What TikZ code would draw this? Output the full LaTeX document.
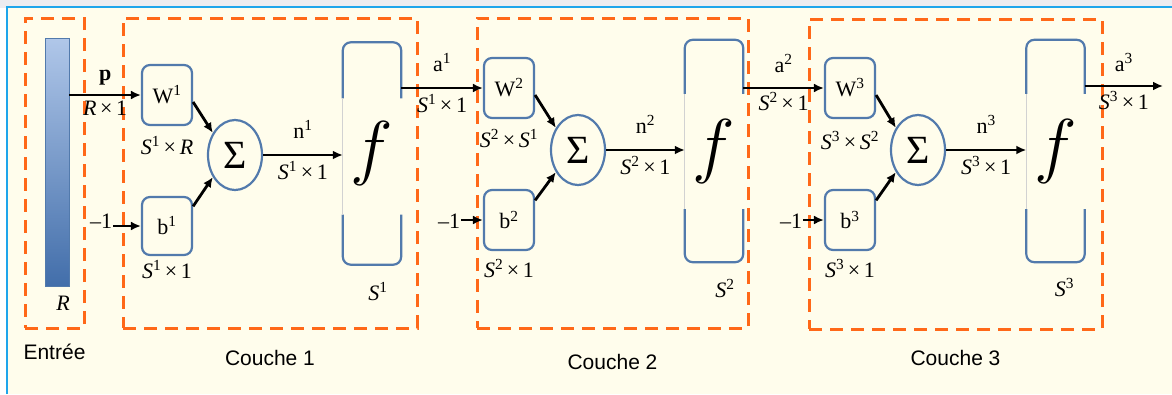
\RequirePackage{fix-cm}
\documentclass[tikz,border=0pt]{standalone}
\usepackage{fontspec}
\setmainfont{Liberation Serif}
\setsansfont{Liberation Sans}
\usetikzlibrary{positioning,arrows.meta,shapes.geometric}

\definecolor{dashorange}{RGB}{255,104,24}
\definecolor{boxblue}{RGB}{82,122,172}
\definecolor{barlight}{RGB}{176,199,233}
\definecolor{bardark}{RGB}{66,110,170}
\definecolor{paper}{RGB}{255,253,236}
\definecolor{framebl}{RGB}{30,165,235}
\definecolor{topgray}{RGB}{236,236,240}

\tikzset{
  layerbox/.style={draw=dashorange, line width=3pt, dash pattern=on 13pt off 8pt,
                   minimum height=310pt, inner sep=0pt},
  wbox/.style={draw=boxblue, line width=2.2pt, rounded corners=8pt,
               minimum width=50pt, minimum height=60pt, inner sep=0pt,
               font=\fontsize{22}{26}\selectfont},
  sumnode/.style={ellipse, draw=boxblue, line width=2.2pt, minimum width=54pt,
                  minimum height=70pt, inner sep=0pt, font=\fontsize{40}{42}\selectfont},
  fnode/.style={minimum width=58pt, minimum height=222pt, inner sep=0pt,
                font=\fontsize{72}{72}\selectfont},
  fline/.style={draw=boxblue, line width=2.2pt, rounded corners=8pt},
  gapline/.style={draw=gray!35, line width=0.8pt},
  inbar/.style={top color=barlight, bottom color=bardark, draw=boxblue, line width=0.8pt,
                minimum width=24pt, minimum height=248pt, inner sep=0pt},
  lbl/.style={font=\fontsize{22}{26}\selectfont, inner sep=1pt},
  laytitle/.style={font=\sffamily\fontsize{21}{25}\selectfont, inner sep=0pt},
  arr/.style={->, line width=2.8pt}
}

\begin{document}
\begin{tikzpicture}[x=1pt, y=-1pt, >={Latex[length=10pt,width=9pt]}]
  \useasboundingbox (0,0) rectangle (1172,394);
  % page frame
  \fill[topgray] (0,0) rectangle (1172,8);
  \fill[white] (0,8) rectangle (8,394);
  \fill[paper] (8,8) rectangle (1172,394);
  \draw[framebl, line width=2pt] (7,394) -- (7,7) -- (1172,7);

  % dashed frames
  \node[layerbox, minimum width=59pt] (ent) at (54.5,173) {};
  \node[layerbox, minimum width=294pt] (c1) at (270,173) {};
  \node[layerbox, minimum width=271pt] (c2) at (612.5,173) {};
  \node[layerbox, minimum width=293pt] (c3) at (955.5,174) {};
  \node[laytitle, below=14pt of ent] (entlab) {Entrée};
  \node[laytitle, below=21pt of c1] (c1lab) {Couche 1};
  \node[laytitle, below=25pt of c2] (c2lab) {Couche 2};
  \node[laytitle, below=20pt of c3] (c3lab) {Couche 3};

  % input
  \node[inbar] (bar) at (57,162) {};
  \node[lbl] (barR) at (63,303) {\textit{R}};

  % layer 1
  \node[wbox] (w1) at (167,95) {W\textsuperscript{1}};
  \node[wbox, minimum height=58pt] (b1) at (167,226) {b\textsuperscript{1}};
  \node[sumnode] (s1) at (235,155) {Σ};
  \node[fnode] (f1) at (372,153.5) {$f$};
  \node[lbl, below=9pt of w1] (w1dim) {\textit{S}\textsuperscript{1}\,×\,\textit{R}};
  \node[lbl, below=3pt of b1] (b1dim) {\textit{S}\textsuperscript{1}\,×\,1};
  \node[lbl, below=16pt of f1, xshift=6pt] (f1dim) {\textit{S}\textsuperscript{1}};
  \node[lbl] (m1) at (101,221) {--1};
  \draw[fline] ([yshift=-56pt]f1.north west) |- (f1.north east) -- ++(0,56);
  \draw[fline] ([yshift=50pt]f1.south west) |- (f1.south east) -- ++(0,-50);
  \draw[gapline] ([yshift=-56pt]f1.north west) -- ([yshift=50pt]f1.south west);

  \draw[arr] (bar.east |- w1) -- node[lbl, above=7pt] (plab) {\textbf{p}}
    node[lbl, below=4pt] (pdim) {\textit{R}\,×\,1} (w1.west);
  \draw[arr] (m1.east |- b1) -- (b1.west);
  \draw[arr] (w1.-15) -- (s1.135);
  \draw[arr] (b1.37) -- (s1.225);
  \draw[arr] (s1.east) -- node[lbl, above=14pt] (n1lab) {n\textsuperscript{1}}
    node[lbl, below=4pt] (n1dim) {\textit{S}\textsuperscript{1}\,×\,1} (f1.west |- s1.east);

  % layer 2
  \node[wbox] (w2) at (509,88) {W\textsuperscript{2}};
  \node[wbox] (b2) at (509,220) {b\textsuperscript{2}};
  \node[sumnode] (s2) at (578,150) {Σ};
  \node[fnode] (f2) at (714,151) {$f$};
  \node[lbl, below=9pt of w2] (w2dim) {\textit{S}\textsuperscript{2}\,×\,\textit{S}\textsuperscript{1}};
  \node[lbl, below=7pt of b2] (b2dim) {\textit{S}\textsuperscript{2}\,×\,1};
  \node[lbl, below=16pt of f2, xshift=11pt] (f2dim) {\textit{S}\textsuperscript{2}};
  \node[lbl] (m2) at (449,221) {--1};
  \draw[fline] ([yshift=-54pt]f2.north west) |- (f2.north east) -- ++(0,54);
  \draw[fline] ([yshift=53pt]f2.south west) |- (f2.south east) -- ++(0,-53);
  \draw[gapline] ([yshift=-54pt]f2.north west) -- ([yshift=53pt]f2.south west);

  \draw[arr] (f1.east |- w2) -- node[lbl, above=14pt] (a1lab) {a\textsuperscript{1}}
    node[lbl, below=4pt] (a1dim) {\textit{S}\textsuperscript{1}\,×\,1} (w2.west);
  \draw[arr] (m2.east |- b2) -- (b2.west);
  \draw[arr] (w2.-15) -- (s2.135);
  \draw[arr] (b2.37) -- (s2.225);
  \draw[arr] (s2.east) -- node[lbl, above=14pt] (n2lab) {n\textsuperscript{2}}
    node[lbl, below=4pt] (n2dim) {\textit{S}\textsuperscript{2}\,×\,1} (f2.west |- s2.east);

  % layer 3
  \node[wbox] (w3) at (850,88) {W\textsuperscript{3}};
  \node[wbox] (b3) at (850,220) {b\textsuperscript{3}};
  \node[sumnode] (s3) at (918,150) {Σ};
  \node[fnode] (f3) at (1055.5,151) {$f$};
  \node[lbl, below=11pt of w3] (w3dim) {\textit{S}\textsuperscript{3}\,×\,\textit{S}\textsuperscript{2}};
  \node[lbl, below=7pt of b3] (b3dim) {\textit{S}\textsuperscript{3}\,×\,1};
  \node[lbl, below=15pt of f3, xshift=9pt] (f3dim) {\textit{S}\textsuperscript{3}};
  \node[lbl] (m3) at (791,221) {--1};
  \coordinate (out) at (1163,86);
  \draw[fline] ([yshift=-54pt]f3.north west) |- (f3.north east) -- ++(0,54);
  \draw[fline] ([yshift=53pt]f3.south west) |- (f3.south east) -- ++(0,-53);
  \draw[gapline] ([yshift=-54pt]f3.north west) -- ([yshift=53pt]f3.south west);

  \draw[arr] (f2.east |- w3) -- node[lbl, above=13pt] (a2lab) {a\textsuperscript{2}}
    node[lbl, below=2pt] (a2dim) {\textit{S}\textsuperscript{2}\,×\,1} (w3.west);
  \draw[arr] (m3.east |- b3) -- (b3.west);
  \draw[arr] (w3.-15) -- (s3.135);
  \draw[arr] (b3.37) -- (s3.225);
  \draw[arr] (s3.east) -- node[lbl, above=14pt] (n3lab) {n\textsuperscript{3}}
    node[lbl, below=4pt] (n3dim) {\textit{S}\textsuperscript{3}\,×\,1} (f3.west |- s3.east);
  \draw[arr] (f3.east |- out) -- node[lbl, above=12pt] (a3lab) {a\textsuperscript{3}}
    node[lbl, below=3pt] (a3dim) {\textit{S}\textsuperscript{3}\,×\,1} (out);
\end{tikzpicture}
\end{document}
